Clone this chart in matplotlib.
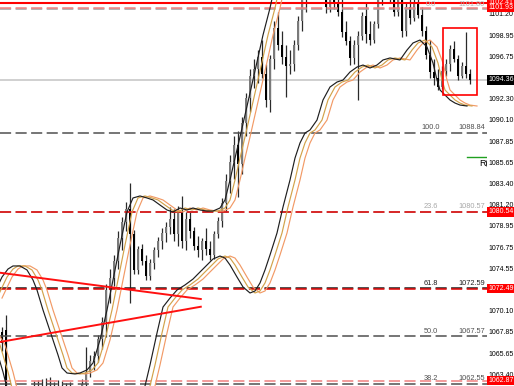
import matplotlib
matplotlib.use("Agg")
import matplotlib.pyplot as plt
from matplotlib.patches import Rectangle
from matplotlib.transforms import blended_transform_factory

plt.rcParams['font.family'] = ['Liberation Sans', 'DejaVu Sans']
plt.rcParams['lines.scale_dashes'] = False

# candles, one per bar (index 0 = leftmost)
opens = [1068.0, 1068.2, 1060.8, 1060.2, 1060.6, 1061.0, 1060.5, 1061.2, 1061.5, 1062.0,
         1061.6, 1062.2, 1061.8, 1062.1, 1061.7, 1062.0, 1061.5, 1061.9, 1061.4, 1061.0,
         1061.6, 1062.5, 1063.8, 1064.9, 1065.4, 1067.2, 1069.0, 1072.4, 1073.6, 1075.4,
         1077.8, 1079.5, 1080.8, 1078.2, 1074.4, 1076.6, 1075.4, 1073.8, 1075.2, 1076.5,
         1077.5, 1078.3, 1079.0, 1079.8, 1078.2, 1080.6, 1077.5, 1079.8, 1078.5, 1077.0,
         1076.5, 1077.5, 1076.6, 1076.0, 1078.2, 1079.6, 1081.5, 1083.8, 1085.8, 1087.5,
         1085.5, 1089.8, 1092.5, 1094.8, 1095.5, 1096.8, 1095.0, 1092.2, 1096.5, 1099.8,
         1098.0, 1096.8, 1095.8, 1096.0, 1098.0, 1100.5, 1102.8, 1103.8, 1104.8, 1105.2,
         1104.0, 1103.5, 1102.0, 1103.2, 1102.4, 1101.5, 1099.4, 1098.4, 1096.6, 1098.0,
         1099.0, 1101.0, 1099.2, 1098.5, 1100.2, 1102.8, 1103.8, 1104.0, 1103.0, 1101.5,
         1103.0, 1099.5, 1102.0, 1100.8, 1102.5, 1101.2, 1099.5, 1097.0, 1095.2, 1094.5,
         1093.6, 1095.3, 1096.0, 1097.6, 1096.5, 1094.8, 1095.8, 1095.0]
highs = [1068.5, 1069.7, 1061.8, 1061.2, 1061.5, 1061.9, 1061.6, 1062.0, 1062.8, 1062.9,
         1063.0, 1063.1, 1063.2, 1062.7, 1062.9, 1062.8, 1062.6, 1062.7, 1062.2, 1062.0,
         1063.0, 1066.4, 1065.5, 1066.0, 1067.6, 1069.5, 1073.0, 1074.5, 1076.0, 1078.5,
         1080.0, 1081.6, 1083.6, 1078.6, 1077.0, 1077.2, 1076.0, 1075.6, 1076.9, 1077.9,
         1078.8, 1079.5, 1081.0, 1080.8, 1081.2, 1082.2, 1080.5, 1080.5, 1079.0, 1078.0,
         1077.8, 1078.8, 1077.5, 1078.5, 1080.0, 1082.0, 1084.5, 1086.5, 1088.5, 1089.0,
         1090.5, 1093.0, 1095.5, 1096.5, 1097.5, 1098.5, 1096.0, 1097.0, 1100.5, 1101.5,
         1099.5, 1098.0, 1097.5, 1098.5, 1101.0, 1103.5, 1104.5, 1105.5, 1106.0, 1106.0,
         1105.0, 1104.5, 1104.0, 1104.5, 1103.5, 1103.0, 1100.5, 1099.0, 1098.5, 1099.5,
         1101.5, 1102.5, 1100.5, 1100.5, 1103.0, 1104.5, 1104.8, 1104.5, 1103.8, 1103.5,
         1103.8, 1102.5, 1103.5, 1103.0, 1103.5, 1102.0, 1100.0, 1098.5, 1096.5, 1095.5,
         1095.8, 1096.5, 1098.0, 1098.4, 1097.0, 1096.2, 1099.4, 1095.5]
lows = [1066.0, 1060.0, 1059.5, 1059.0, 1059.8, 1060.2, 1059.9, 1060.6, 1061.0, 1061.2,
        1061.3, 1061.5, 1061.4, 1061.3, 1061.0, 1061.2, 1060.8, 1061.0, 1060.5, 1060.2,
        1061.0, 1062.0, 1063.2, 1064.0, 1064.8, 1066.2, 1067.4, 1071.0, 1072.8, 1074.5,
        1076.5, 1078.5, 1071.0, 1074.0, 1074.0, 1075.0, 1073.4, 1073.4, 1074.6, 1075.8,
        1076.6, 1077.4, 1078.2, 1077.5, 1077.0, 1076.8, 1076.5, 1077.8, 1076.5, 1075.8,
        1075.5, 1076.0, 1075.5, 1075.6, 1077.8, 1079.0, 1080.5, 1082.5, 1084.0, 1082.1,
        1084.5, 1088.5, 1091.0, 1093.5, 1094.0, 1094.5, 1091.5, 1091.0, 1095.5, 1097.5,
        1096.0, 1092.6, 1095.0, 1095.3, 1097.5, 1099.5, 1101.5, 1103.0, 1103.5, 1103.2,
        1102.9, 1101.4, 1101.5, 1101.8, 1101.0, 1098.8, 1098.0, 1095.9, 1096.0, 1092.3,
        1098.5, 1098.2, 1098.0, 1098.2, 1099.8, 1102.2, 1102.8, 1102.5, 1101.0, 1101.0,
        1098.8, 1099.0, 1100.2, 1100.5, 1100.8, 1099.0, 1096.5, 1094.6, 1093.8, 1093.3,
        1093.4, 1094.8, 1095.3, 1096.2, 1094.3, 1094.5, 1094.6, 1093.9]
closes = [1066.8, 1060.8, 1060.2, 1060.6, 1061.0, 1060.5, 1061.2, 1061.5, 1062.0, 1061.6,
          1062.2, 1061.8, 1062.1, 1061.7, 1062.0, 1061.5, 1061.9, 1061.4, 1061.0, 1061.6,
          1062.5, 1063.8, 1064.9, 1065.4, 1067.2, 1069.0, 1072.4, 1073.6, 1075.4, 1077.8,
          1079.5, 1080.8, 1078.2, 1074.4, 1076.6, 1075.4, 1073.8, 1075.2, 1076.5, 1077.5,
          1078.3, 1079.0, 1079.8, 1078.2, 1080.6, 1077.5, 1079.8, 1078.5, 1077.0, 1076.5,
          1077.5, 1076.6, 1076.0, 1078.2, 1079.6, 1081.5, 1083.8, 1085.8, 1087.5, 1085.5,
          1089.8, 1092.5, 1094.8, 1095.5, 1096.8, 1095.0, 1092.2, 1096.5, 1099.8, 1098.0,
          1096.8, 1095.8, 1096.0, 1098.0, 1100.5, 1102.8, 1103.8, 1104.8, 1105.2, 1104.0,
          1103.5, 1102.0, 1103.2, 1102.4, 1101.5, 1099.4, 1098.4, 1096.6, 1098.0, 1099.0,
          1101.0, 1099.2, 1098.5, 1100.2, 1102.8, 1103.8, 1104.0, 1103.0, 1101.5, 1103.0,
          1099.5, 1102.0, 1100.8, 1102.5, 1101.2, 1099.5, 1097.0, 1095.2, 1094.5, 1093.6,
          1095.3, 1096.0, 1097.6, 1096.5, 1094.8, 1095.8, 1095.0, 1094.36]

# envelope lines; the two coloured copies lag behind it
upper_idx = [-2.5, 0, 1.5, 2.75, 4.5, 6.25, 7.75, 8.75, 10.25, 11.5, 12.75, 14, 15, 16.25,
             18.25, 19.5, 21.25, 22.75, 24.5, 26.25, 27.75, 29.5, 31.25, 32.75, 34.5, 36.25,
             37.75, 39.5, 41.25, 42.75, 44.5, 46.25, 47.75, 49.5, 51.25, 52.75, 54.5, 55.75,
             57, 58.25, 59.5, 60.75, 62, 63.75, 65.25, 67, 68.25, 70.75]
upper_val = [1071.51, 1073.71, 1074.55, 1074.87, 1074.87, 1074.45, 1073.40, 1072.35, 1070.26,
             1068.69, 1067.12, 1065.55, 1064.19, 1063.66, 1063.56, 1063.66, 1063.98, 1064.71,
             1067.12, 1070.26, 1073.40, 1077.06, 1080.52, 1081.99, 1082.20, 1081.99, 1081.78,
             1081.25, 1080.73, 1080.52, 1080.94, 1080.73, 1080.94, 1080.73, 1080.62, 1080.62,
             1080.94, 1081.78, 1083.87, 1086.17, 1088.37, 1090.68, 1092.98, 1096.23, 1099.05,
             1101.88, 1104.29, 1108.0]
lower_idx = [-8, -4.25, -1.75, 0.25, 2, 4.5, 32, 34.5, 35.75, 37, 38.75, 40.25, 42, 43.75,
             45.75, 47.75, 49.5, 51.25, 52.75, 54.5, 55.75, 57, 58.75, 60.25, 62, 63.25, 64.5,
             65.75, 67, 68.75, 70.25, 72, 73.25, 74.5, 75.75, 77, 78.75, 80.25, 82, 83.75,
             85.25, 87, 88.75, 90.25, 92, 93.75, 95.25, 97, 99.5, 101.25, 102.75, 104.5,
             106.25, 107.75, 108.75, 109.5, 110.75, 112, 113.25, 114.5, 116.25]
lower_val = [1070.26, 1068.37, 1066.59, 1063.77, 1060.83, 1057.7, 1057.7, 1059.79, 1062.30,
             1064.50, 1067.85, 1070.57, 1071.51, 1072.35, 1072.88, 1073.50, 1074.24, 1074.97,
             1075.60, 1075.91, 1075.70, 1074.97, 1073.71, 1072.67, 1072.04, 1072.25, 1073.09,
             1074.45, 1076.02, 1078.32, 1081.04, 1083.87, 1086.17, 1087.75, 1088.79, 1089.11,
             1090.15, 1092.25, 1093.61, 1094.13, 1094.34, 1095.18, 1095.70, 1095.91, 1095.60,
             1095.91, 1096.44, 1096.65, 1096.44, 1097.48, 1098.22, 1098.53, 1097.80, 1096.12,
             1094.34, 1093.30, 1092.77, 1092.25, 1091.93, 1091.72, 1091.62]
ma_lags = [0, 1.25, 2.5]
ma_colors = ['#1e1e1e', '#d2a24a', '#f29a66']

# red trend lines
trend_idx = [[-0.5, 49.7], [-0.5, 49.7]]
trend_val = [[1074.16, 1071.41], [1066.91, 1070.60]]

# fibonacci levels
fib_prices = [1101.80, 1088.84, 1080.57, 1072.59, 1067.57, 1062.55]
fib_names = ['0.0', '100.0', '23.6', '61.8', '50.0', '38.2']
fib_colors = ['#b4b4b4', '#505050', '#a8a8a8', '#202020', '#505050', '#505050']

# pending order lines
order_prices = [1101.93, 1080.54, 1072.49, 1062.87]
order_colors = ['#f08080', '#e00000', '#e00000', '#f08080']
stop_price = 1102.41
bid = 1094.36

tick_prices = [1101.20, 1098.95, 1096.75, 1092.30, 1090.10, 1087.85, 1085.65, 1083.40,
               1081.20, 1078.95, 1076.75, 1074.55, 1070.10, 1067.85, 1065.65, 1063.40]
box_prices = [1102.41, 1101.93, 1094.36, 1080.54, 1072.49, 1062.87]
box_colors = ['#ff0000', '#ff0000', '#000000', '#ff0000', '#ff0000', '#ff0000']

# highlighted area (candle index, price)
box_x = [110.25, 118.75]
box_y = [1092.77, 1099.79]

green_x = [116.25, 121.25]
green_y = 1086.28

W, H = 514, 386
AXW = 487
fig = plt.figure(figsize=(W / 100, H / 100), dpi=100)
ax = fig.add_axes([0, 0, AXW / W, 1])
ax.set_xlim(-0.5, 121.25)
ax.set_ylim(1062.30, 1102.72)
ax.axis('off')
tr = blended_transform_factory(ax.transAxes, ax.transData)
px = lambda p: p / AXW
dash = (0, (8.0, 3.2))

# bid line
ax.axhline(bid, color='#d0d0d0', lw=1.4, zorder=1)

# candles
idx = list(range(len(closes)))
ax.vlines(idx, lows, highs, colors='#2a2a2a', lw=0.9, zorder=2)
bottoms = [min(o, c) for o, c in zip(opens, closes)]
heights = [max(abs(c - o), 0.1) for o, c in zip(opens, closes)]
cols = ['#7a7a7a' if c >= o else '#000000' for o, c in zip(opens, closes)]
ax.bar(idx, heights, bottom=bottoms, width=0.72, color=cols, lw=0, zorder=2)

# horizontal levels
ax.axhline(stop_price, color='#ff0000', lw=1.5, zorder=3)
for p, c in zip(fib_prices, fib_colors):
    ax.axhline(p, color=c if c != '#b4b4b4' else '#a0a0a0', lw=1.1, linestyle=dash, zorder=3)
for p, c in zip(order_prices, order_colors):
    ax.axhline(p, color=c, lw=1.1, linestyle=dash, zorder=3)

# envelope lines
for lag, c in zip(reversed(ma_lags), reversed(ma_colors)):
    ax.plot([x + lag for x in upper_idx], upper_val, color=c, lw=0.85, zorder=4)
    ax.plot([x + lag for x in lower_idx], lower_val, color=c, lw=0.85, zorder=4)

# trend lines
for xs, ys in zip(trend_idx, trend_val):
    ax.plot(xs, ys, color='#ff1010', lw=1.4, zorder=5)

# highlight box
ax.add_patch(Rectangle((box_x[0], box_y[0]), box_x[1] - box_x[0], box_y[1] - box_y[0],
                       fill=False, ec='#ff0000', lw=1.2, zorder=6))

# green marker and its clipped label
ax.plot(green_x, [green_y, green_y], color='#20a020', lw=1.0, zorder=5)
ax.text(px(479), 1085.65, 'R(', transform=tr, fontsize=6.5, va='center', ha='left',
        color='#000000', clip_on=True)

# fibo labels
for p, n, c in zip(fib_prices, fib_names, fib_colors):
    ax.text(px(431), p + 0.12, n, transform=tr, fontsize=5.3, ha='center', va='bottom', color=c)
    ax.text(px(485), p + 0.12, f'{p:.2f}', transform=tr, fontsize=5.3, ha='right',
            va='bottom', color=c)

# price scale
for p in tick_prices:
    ax.text(px(488), p, f'{p:.2f}', transform=tr, fontsize=5, ha='left', va='center',
            color='#000000', clip_on=False)
for p, c in zip(box_prices, box_colors):
    ax.add_patch(Rectangle((1.0, p - 0.5), (W - AXW) / AXW, 1.0, transform=tr,
                           fc=c, ec='none', clip_on=False, zorder=7))
    ax.text(px(488), p, f'{p:.2f}', transform=tr, fontsize=5, ha='left', va='center',
            color='white', clip_on=False, zorder=8)

fig.savefig('out.png', dpi=100)
